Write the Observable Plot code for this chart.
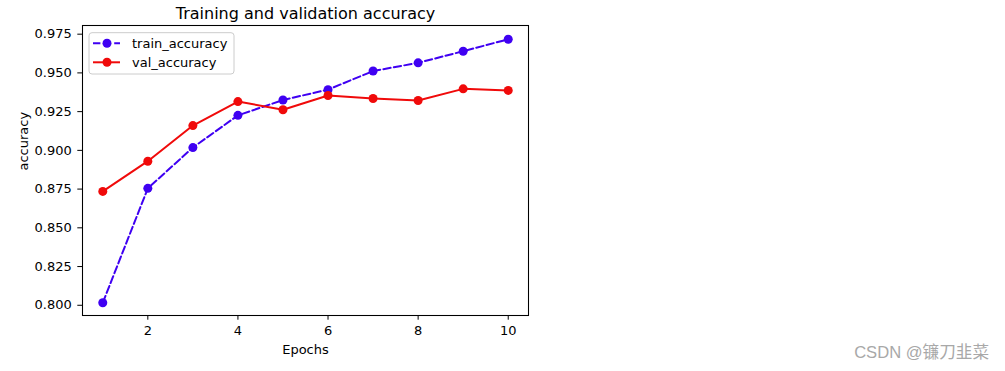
<!DOCTYPE html>
<html>
<head>
<meta charset="utf-8">
<script src="https://cdn.jsdelivr.net/npm/d3@7"></script>
<script src="https://cdn.jsdelivr.net/npm/@observablehq/plot@0.6"></script>
<style>
  html, body { margin: 0; padding: 0; background: #fff; }
  svg { overflow: visible; }
</style>
</head>
<body>
<div id="chart"></div>
<script>
const epochs = [1, 2, 3, 4, 5, 6, 7, 8, 9, 10];
const trainAccuracy = [0.8016, 0.8755, 0.9018, 0.9226, 0.9325, 0.9392, 0.9512, 0.9565, 0.9640, 0.9717];
const valAccuracy   = [0.8735, 0.8930, 0.9160, 0.9315, 0.9262, 0.9354, 0.9335, 0.9322, 0.9397, 0.9387];
const seriesNames = ["train_accuracy", "val_accuracy"];
const seriesColors = ["#3f00f2", "#f00a0a"];
const xTicks = [2, 4, 6, 8, 10];
const yTicks = [0.800, 0.825, 0.850, 0.875, 0.900, 0.925, 0.950, 0.975];
const titleText = "Training and validation accuracy";
const xLabel = "Epochs";
const yLabel = "accuracy";
const watermark = "CSDN @镰刀韭菜";

const train = epochs.map((e, i) => ({epoch: e, acc: trainAccuracy[i]}));
const val = epochs.map((e, i) => ({epoch: e, acc: valAccuracy[i]}));

const W = 1005, H = 371;
const mL = 82, mR = 477, mT = 25, mB = 56;
const dotR = 4.5;

const chart = Plot.plot({
  width: W,
  height: H,
  marginLeft: mL,
  marginRight: mR,
  marginTop: mT,
  marginBottom: mB,
  style: {fontFamily: "DejaVu Sans", fontSize: "13px", color: "#000", background: "#fff"},
  x: {domain: [0.55, 10.45]},
  y: {domain: [0.7934, 0.9806]},
  marks: [
    Plot.axisX({ticks: xTicks, tickSize: 4.7, tickPadding: 6, label: null, fontSize: 13}),
    Plot.axisY({ticks: yTicks, tickSize: 4.7, tickPadding: 6, label: null, fontSize: 13, tickFormat: d3.format(".3f")}),
    Plot.line(train, {x: "epoch", y: "acc", stroke: seriesColors[0], strokeWidth: 2, strokeDasharray: "7.4,3.2"}),
    Plot.dot(train, {x: "epoch", y: "acc", r: dotR, fill: seriesColors[0], stroke: "none"}),
    Plot.line(val, {x: "epoch", y: "acc", stroke: seriesColors[1], strokeWidth: 2}),
    Plot.dot(val, {x: "epoch", y: "acc", r: dotR, fill: seriesColors[1], stroke: "none"}),
    Plot.frame({stroke: "#000", strokeWidth: 1.07}),
    Plot.text([titleText], {frameAnchor: "top", dy: -7, lineAnchor: "bottom", fontSize: 16, fill: "#000"}),
    Plot.text([xLabel], {frameAnchor: "bottom", dy: 38, lineAnchor: "bottom", fontSize: 13, fill: "#000"}),
    Plot.text([yLabel], {frameAnchor: "left", dx: -59, rotate: -90, lineAnchor: "middle", fontSize: 13, fill: "#000"})
  ]
});

document.getElementById("chart").appendChild(chart);

// Legend
const svg = d3.select(chart);
const lg = svg.append("g")
  .attr("font-family", "DejaVu Sans")
  .attr("font-size", 13)
  .attr("text-anchor", "start");
lg.append("rect")
  .attr("x", mL + 7).attr("y", mT + 7.7)
  .attr("width", 145).attr("height", 41.3)
  .attr("rx", 3)
  .attr("fill", "#fff").attr("fill-opacity", 0.8)
  .attr("stroke", "#cccccc").attr("stroke-width", 1);
seriesNames.forEach((name, i) => {
  const cy = mT + 18.3 + i * 19;
  const g = lg.append("g");
  g.append("line")
    .attr("x1", mL + 11).attr("x2", mL + 38)
    .attr("y1", cy).attr("y2", cy)
    .attr("stroke", seriesColors[i]).attr("stroke-width", 2)
    .attr("stroke-dasharray", i === 0 ? "7.4,3.2" : null);
  g.append("circle")
    .attr("cx", mL + 25).attr("cy", cy).attr("r", dotR)
    .attr("fill", seriesColors[i]);
  g.append("text")
    .attr("x", mL + 50).attr("y", cy).attr("dy", "0.35em")
    .attr("text-anchor", "start")
    .attr("fill", "#000").text(name);
});

// Watermark
svg.append("text")
  .attr("x", 989).attr("y", 358)
  .attr("text-anchor", "end")
  .attr("font-family", "'Liberation Sans', 'Noto Sans CJK SC', sans-serif")
  .attr("font-size", 16.6)
  .attr("fill", "#a8a8a8")
  .text(watermark);
</script>
</body>
</html>
